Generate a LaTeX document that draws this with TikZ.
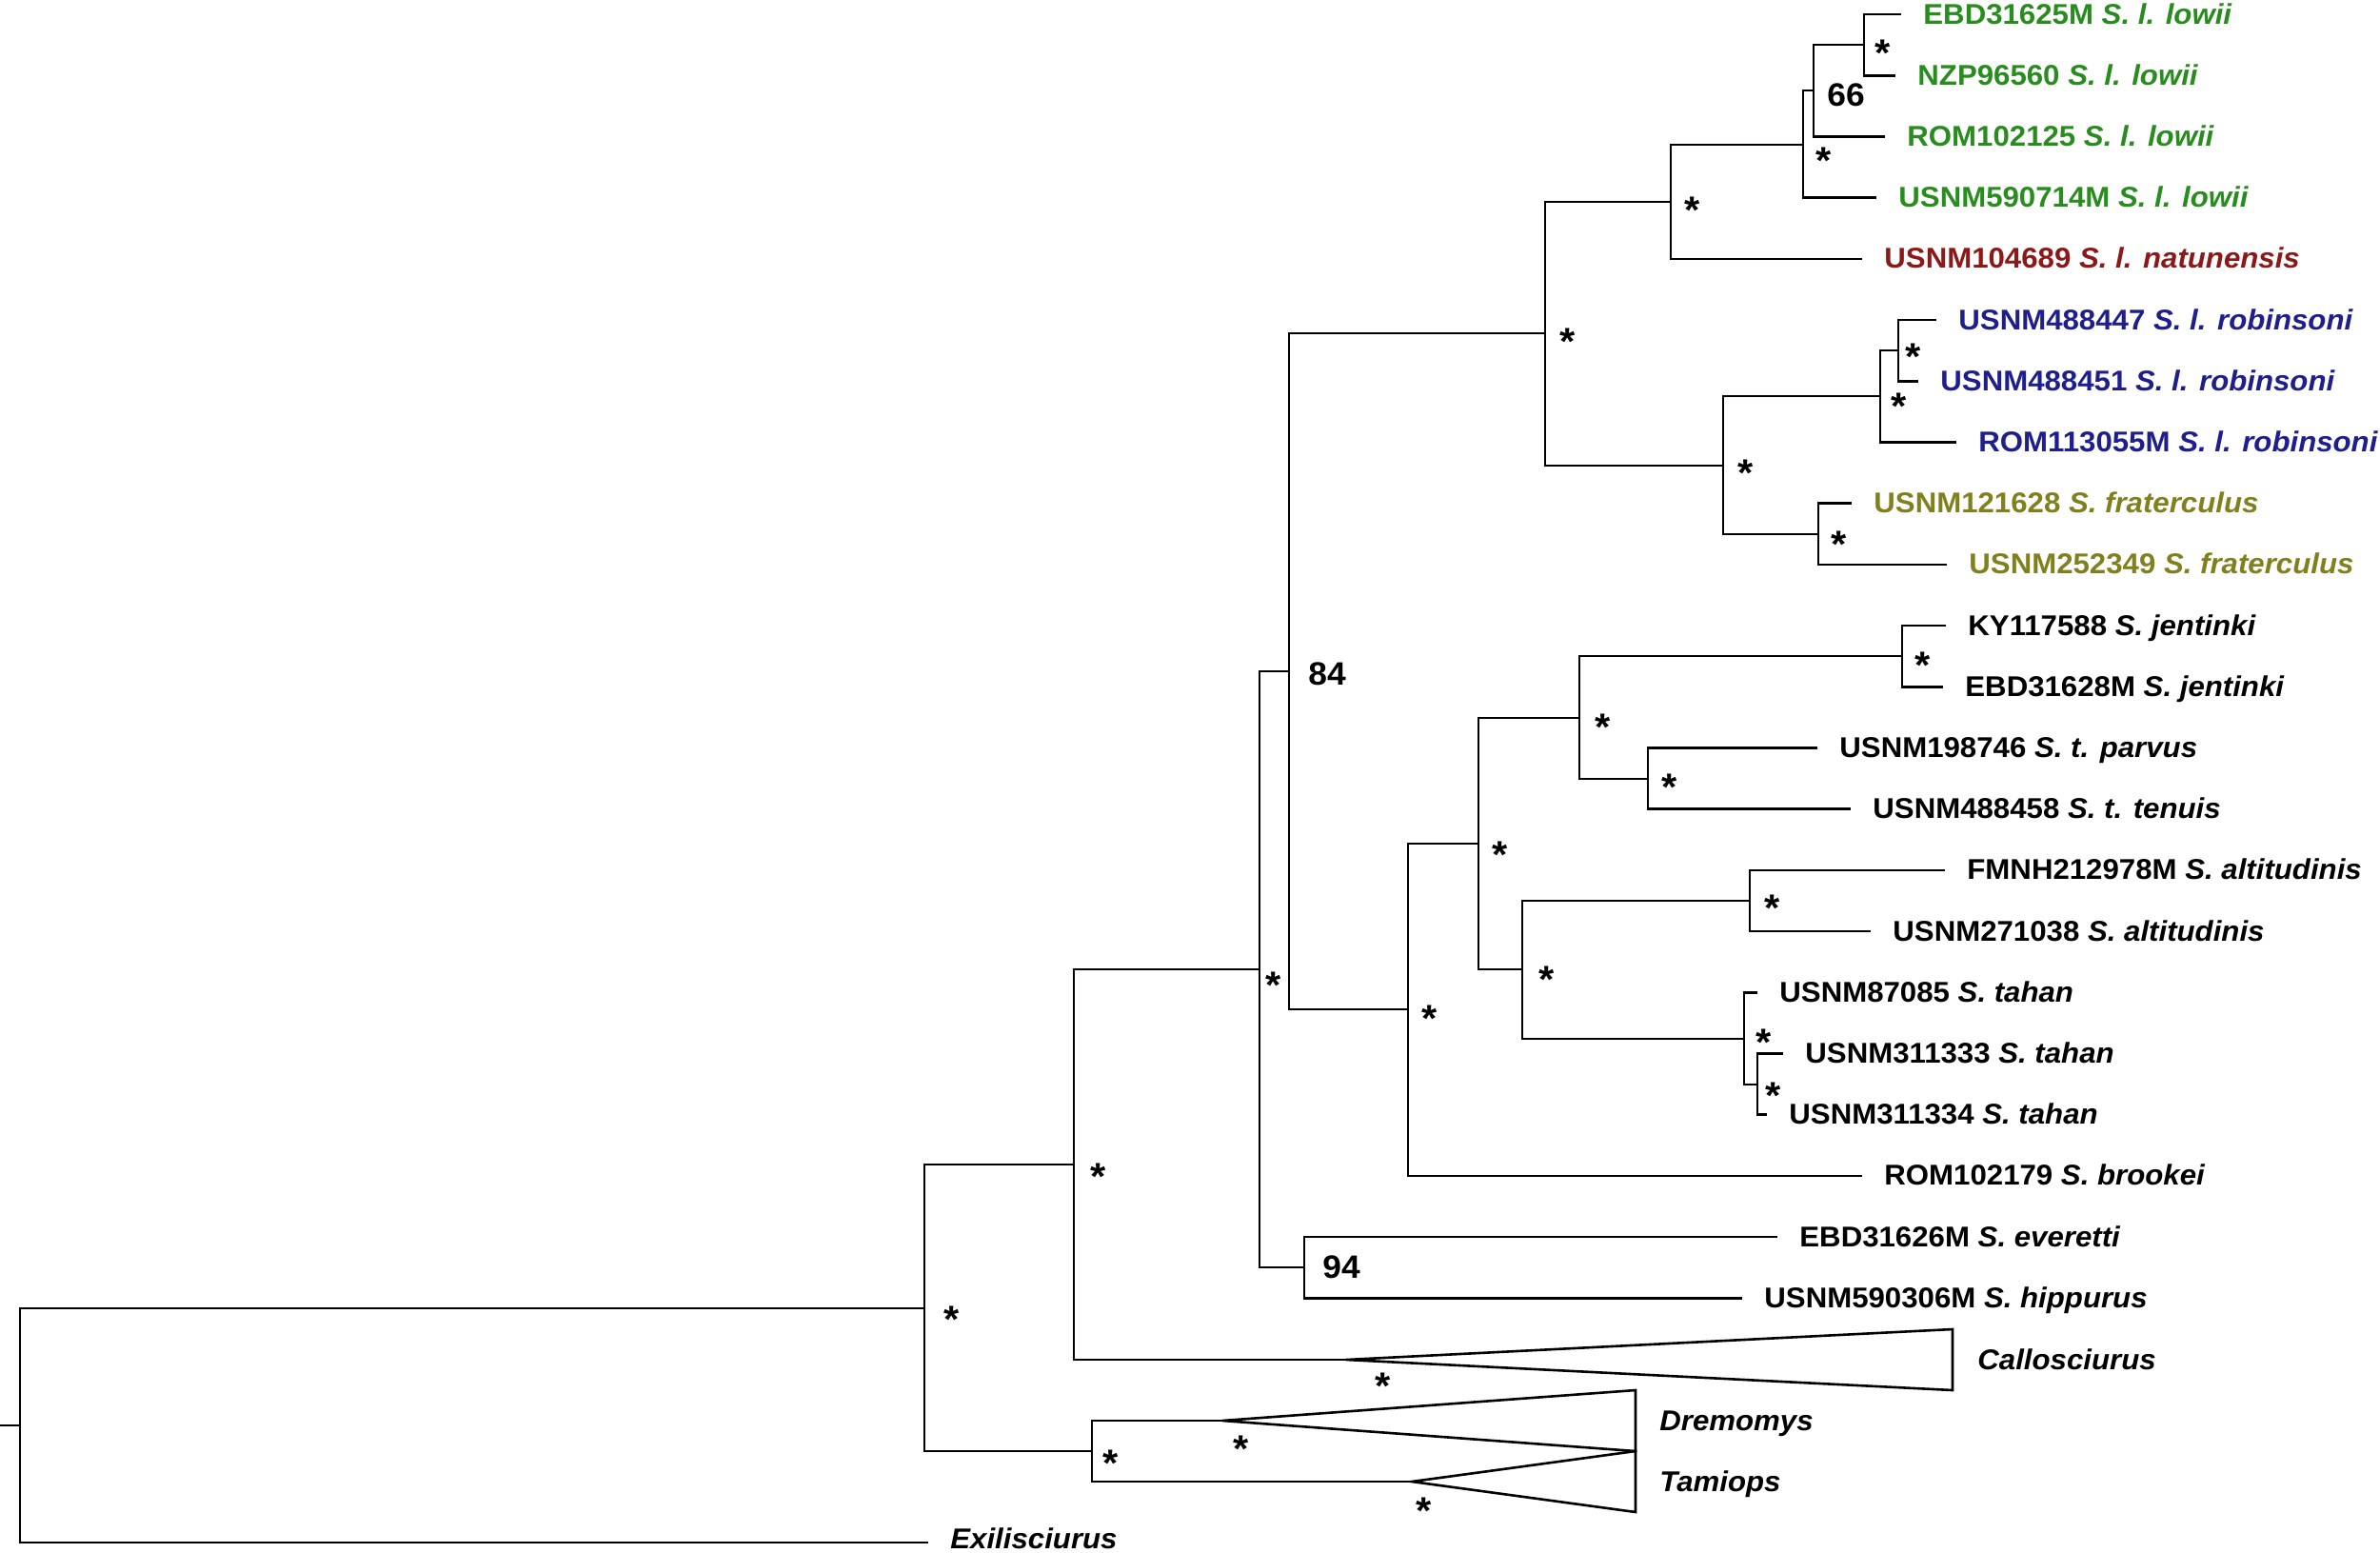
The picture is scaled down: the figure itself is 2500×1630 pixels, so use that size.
\documentclass[tikz,border=0pt]{standalone}
\usepackage{fontspec}
\setmainfont{Liberation Sans}[FakeStretch=1.04]
\definecolor{cgreen}{RGB}{40,140,30}
\definecolor{cred}{RGB}{140,25,25}
\definecolor{cblue}{RGB}{30,30,140}
\definecolor{colive}{RGB}{128,128,30}
\newcommand\spnm[1]{\textit{#1}}
\begin{document}
\begin{tikzpicture}[x=0.5pt,y=-0.5pt,
  br/.style={line width=1.3pt, line join=miter},
  lab/.style={anchor=base west, inner sep=0pt, font=\fontsize{15pt}{18pt}\selectfont\bfseries},
  supp/.style={anchor=base, inner sep=0pt, yshift=-11.25pt, font=\fontsize{20pt}{24pt}\selectfont\bfseries},
  bsv/.style={anchor=center, inner sep=0pt, font=\fontsize{17pt}{20pt}\selectfont\bfseries}]
\useasboundingbox (0,0) rectangle (2500,1630);
% internal nodes
\coordinate (rootstub) at (0,1497);
\coordinate (nR) at (21,1497);
\coordinate (nA) at (971,1374);
\coordinate (nB) at (1128,1223);
\coordinate (nC) at (1147,1524);
\coordinate (nD) at (1323,1018);
\coordinate (nE) at (1354,705);
\coordinate (nF) at (1370,1331);
\coordinate (nG) at (1623,350);
\coordinate (nI) at (1755,212);
\coordinate (nK) at (1894,152);
\coordinate (nL) at (1905,95);
\coordinate (nM) at (1958,47);
\coordinate (nJ) at (1810,489);
\coordinate (nN) at (1975,416);
\coordinate (nO) at (1994,368);
\coordinate (nP) at (1910,561);
\coordinate (nH) at (1479,1060);
\coordinate (nQ) at (1553,886);
\coordinate (nRr) at (1659,754);
\coordinate (nS) at (1998,689);
\coordinate (nT) at (1731,818);
\coordinate (nU) at (1599,1018);
\coordinate (nV) at (1838,946);
\coordinate (nW) at (1832,1091);
\coordinate (nX) at (1846,1139);
% leaves
\coordinate (l0) at (1997,15);
\coordinate (l1) at (1991,79.2);
\coordinate (l2) at (1980,143.4);
\coordinate (l3) at (1971,207.6);
\coordinate (l4) at (1956,271.8);
\coordinate (l5) at (2034,336);
\coordinate (l6) at (2015,400.2);
\coordinate (l7) at (2055,464.4);
\coordinate (l8) at (1945,528.6);
\coordinate (l9) at (2045,592.8);
\coordinate (l10) at (2044,657);
\coordinate (l11) at (2041,721.2);
\coordinate (l12) at (1909,785.4);
\coordinate (l13) at (1944,849.6);
\coordinate (l14) at (2043,913.8);
\coordinate (l15) at (1965,978);
\coordinate (l16) at (1846,1042.2);
\coordinate (l17) at (1873,1106.4);
\coordinate (l18) at (1856,1170.6);
\coordinate (l19) at (1956,1234.8);
\coordinate (l20) at (1867,1299);
\coordinate (l21) at (1830,1363.2);
\coordinate (lExi) at (975,1620);
% collapsed clades
\coordinate (aCal) at (1414,1428);
\coordinate (tCal) at (2051,1396);
\coordinate (bCal) at (2051,1460);
\coordinate (aDre) at (1284,1492);
\coordinate (tDre) at (1718,1460);
\coordinate (bDre) at (1718,1524);
\coordinate (aTam) at (1483,1556);
\coordinate (tTam) at (1718,1524);
\coordinate (bTam) at (1718,1588);
% branches
\draw[br] (rootstub) -- (nR);
\draw[br] (nR) |- (nA);  \draw[br] (nR) |- (lExi);
\draw[br] (nA) |- (nB);  \draw[br] (nA) |- (nC);
\draw[br] (nB) |- (nD);  \draw[br] (nB) |- (aCal);
\draw[br] (nC) |- (aDre); \draw[br] (nC) |- (aTam);
\draw[br] (nD) |- (nE);  \draw[br] (nD) |- (nF);
\draw[br] (nF) |- (l20); \draw[br] (nF) |- (l21);
\draw[br] (nE) |- (nG);  \draw[br] (nE) |- (nH);
\draw[br] (nG) |- (nI);  \draw[br] (nG) |- (nJ);
\draw[br] (nI) |- (nK);  \draw[br] (nI) |- (l4);
\draw[br] (nK) |- (nL);  \draw[br] (nK) |- (l3);
\draw[br] (nL) |- (nM);  \draw[br] (nL) |- (l2);
\draw[br] (nM) |- (l0);  \draw[br] (nM) |- (l1);
\draw[br] (nJ) |- (nN);  \draw[br] (nJ) |- (nP);
\draw[br] (nN) |- (nO);  \draw[br] (nN) |- (l7);
\draw[br] (nO) |- (l5);  \draw[br] (nO) |- (l6);
\draw[br] (nP) |- (l8);  \draw[br] (nP) |- (l9);
\draw[br] (nH) |- (nQ);  \draw[br] (nH) |- (l19);
\draw[br] (nQ) |- (nRr); \draw[br] (nQ) |- (nU);
\draw[br] (nRr) |- (nS); \draw[br] (nRr) |- (nT);
\draw[br] (nS) |- (l10); \draw[br] (nS) |- (l11);
\draw[br] (nT) |- (l12); \draw[br] (nT) |- (l13);
\draw[br] (nU) |- (nV);  \draw[br] (nU) |- (nW);
\draw[br] (nV) |- (l14); \draw[br] (nV) |- (l15);
\draw[br] (nW) |- (l16); \draw[br] (nW) |- (nX);
\draw[br] (nX) |- (l17); \draw[br] (nX) |- (l18);
\draw[br] (aCal) -- (tCal) -- (bCal) -- cycle;
\draw[br] (aDre) -- (tDre) -- (bDre) -- cycle;
\draw[br] (aTam) -- (tTam) -- (bTam) -- cycle;
% labels
\begin{scope}[every node/.append style={lab}]
\node[text=cgreen] (t0) at ([xshift=11.5pt,yshift=-5pt]l0) {EBD31625M \spnm{S. l. lowii}};
\node[text=cgreen] (t1) at ([xshift=11.5pt,yshift=-5pt]l1) {NZP96560 \spnm{S. l. lowii}};
\node[text=cgreen] (t2) at ([xshift=11.5pt,yshift=-5pt]l2) {ROM102125 \spnm{S. l. lowii}};
\node[text=cgreen] (t3) at ([xshift=11.5pt,yshift=-5pt]l3) {USNM590714M \spnm{S. l. lowii}};
\node[text=cred] (t4) at ([xshift=11.5pt,yshift=-5pt]l4) {USNM104689 \spnm{S. l. natunensis}};
\node[text=cblue] (t5) at ([xshift=11.5pt,yshift=-5pt]l5) {USNM488447 \spnm{S. l. robinsoni}};
\node[text=cblue] (t6) at ([xshift=11.5pt,yshift=-5pt]l6) {USNM488451 \spnm{S. l. robinsoni}};
\node[text=cblue] (t7) at ([xshift=11.5pt,yshift=-5pt]l7) {ROM113055M \spnm{S. l. robinsoni}};
\node[text=colive] (t8) at ([xshift=11.5pt,yshift=-5pt]l8) {USNM121628 \spnm{S. fraterculus}};
\node[text=colive] (t9) at ([xshift=11.5pt,yshift=-5pt]l9) {USNM252349 \spnm{S. fraterculus}};
\node (t10) at ([xshift=11.5pt,yshift=-5pt]l10) {KY117588 \spnm{S. jentinki}};
\node (t11) at ([xshift=11.5pt,yshift=-5pt]l11) {EBD31628M \spnm{S. jentinki}};
\node (t12) at ([xshift=11.5pt,yshift=-5pt]l12) {USNM198746 \spnm{S. t. parvus}};
\node (t13) at ([xshift=11.5pt,yshift=-5pt]l13) {USNM488458 \spnm{S. t. tenuis}};
\node (t14) at ([xshift=11.5pt,yshift=-5pt]l14) {FMNH212978M \spnm{S. altitudinis}};
\node (t15) at ([xshift=11.5pt,yshift=-5pt]l15) {USNM271038 \spnm{S. altitudinis}};
\node (t16) at ([xshift=11.5pt,yshift=-5pt]l16) {USNM87085 \spnm{S. tahan}};
\node (t17) at ([xshift=11.5pt,yshift=-5pt]l17) {USNM311333 \spnm{S. tahan}};
\node (t18) at ([xshift=11.5pt,yshift=-5pt]l18) {USNM311334 \spnm{S. tahan}};
\node (t19) at ([xshift=11.5pt,yshift=-5pt]l19) {ROM102179 \spnm{S. brookei}};
\node (t20) at ([xshift=11.5pt,yshift=-5pt]l20) {EBD31626M \spnm{S. everetti}};
\node (t21) at ([xshift=11.5pt,yshift=-5pt]l21) {USNM590306M \spnm{S. hippurus}};
\node (tCalL) at (2077,1438) {\spnm{Callosciurus}};
\node (tDreL) at (1743,1502) {\spnm{Dremomys}};
\node (tTamL) at (1743,1566) {\spnm{Tamiops}};
\node (tExi) at ([xshift=11.5pt,yshift=-3pt]lExi) {\spnm{Exilisciurus}};
\end{scope}
% support values
\node[supp] (sA) at (1000,1377) {*};
\node[supp] (sB) at (1154,1227) {*};
\node[supp] (sC) at (1167,1528) {*};
\node[supp] (sCal) at (1453,1447) {*};
\node[supp] (sDre) at (1304,1513) {*};
\node[supp] (sTam) at (1496,1578) {*};
\node[supp] (sD) at (1338,1026) {*};
\node[bsv] (sF) at (1409,1331) {94};
\node[bsv] (sE) at (1394,708) {84};
\node[supp] (sG) at (1647,350) {*};
\node[supp] (sI) at (1778,212) {*};
\node[supp] (sK) at (1916,160) {*};
\node[bsv] (sL) at (1939,100) {66};
\node[supp] (sM) at (1978,47) {*};
\node[supp] (sJ) at (1834,488) {*};
\node[supp] (sN) at (1995,418) {*};
\node[supp] (sO) at (2010,366) {*};
\node[supp] (sP) at (1932,563) {*};
\node[supp] (sH) at (1502,1061) {*};
\node[supp] (sQ) at (1576,889) {*};
\node[supp] (sRr) at (1684,755) {*};
\node[supp] (sS) at (2020,690) {*};
\node[supp] (sT) at (1754,818) {*};
\node[supp] (sU) at (1625,1020) {*};
\node[supp] (sV) at (1862,945) {*};
\node[supp] (sW) at (1853,1086) {*};
\node[supp] (sX) at (1863,1142) {*};
\end{tikzpicture}
\end{document}
